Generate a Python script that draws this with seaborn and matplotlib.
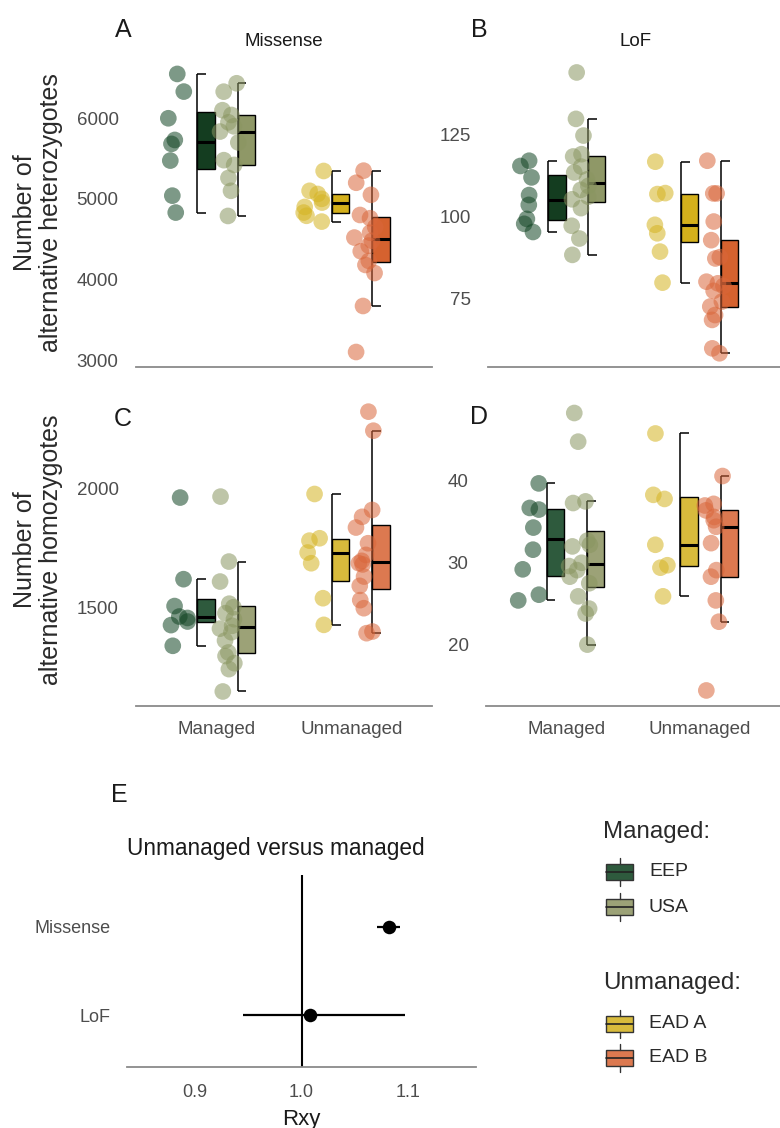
import numpy as np
import pandas as pd
import matplotlib
matplotlib.use("Agg")
import matplotlib.pyplot as plt
import seaborn as sns
from matplotlib.patches import Rectangle

sns.set_theme(style="white")
plt.rcParams["font.family"] = ["Liberation Sans", "DejaVu Sans"]

# ---------------- data ----------------
groups = ["EEP", "USA", "EAD A", "EAD B"]
group_category = ["Managed", "Managed", "Unmanaged", "Unmanaged"]
categories = ["Managed", "Unmanaged"]

# A: heterozygotes, missense
het_mis_eep = [6550, 6331, 6000, 5731, 5682, 5475, 5040, 4830]
het_mis_usa = [4788, 5100, 5260, 5421, 5480, 5700, 5835, 5900, 5950, 6041, 6100, 6330, 6434]
het_mis_eada = [5346, 5100, 5061, 5000, 4954, 4900, 4830, 4790, 4718]
het_mis_eadb = [3100, 3671, 4080, 4180, 4230, 4350, 4420, 4480, 4520, 4580, 4650, 4760,
                4800, 5050, 5200, 5350]
# B: heterozygotes, LoF
het_lof_eep = [117.1, 115.5, 112.0, 106.6, 103.6, 99.3, 97.8, 95.3]
het_lof_usa = [144.1, 129.9, 124.8, 119.1, 118.4, 115.3, 113.5, 111.4, 109.4, 108.2, 106.1,
               105.3, 102.6, 97.2, 93.3, 88.3]
het_lof_eada = [116.8, 107.2, 106.9, 97.5, 94.9, 89.3, 79.8]
het_lof_eadb = [117.1, 107.1, 107.1, 98.5, 92.8, 87.6, 87.2, 80.1, 79.6, 78.8, 77.3, 74.0,
                72.5, 69.9, 68.4, 59.7, 58.2]
# C: homozygotes, missense
hom_mis_eep = [1961, 1618, 1505, 1461, 1455, 1440, 1425, 1338]
hom_mis_usa = [1965, 1692, 1608, 1515, 1500, 1475, 1450, 1422, 1410, 1395, 1360, 1310, 1295,
               1265, 1240, 1146]
hom_mis_eada = [1976, 1790, 1780, 1730, 1685, 1538, 1426]
hom_mis_eadb = [2322, 2242, 1909, 1880, 1835, 1769, 1720, 1695, 1685, 1680, 1629, 1590, 1530,
                1496, 1398, 1391]
# D: homozygotes, LoF
hom_lof_eep = [39.7, 36.7, 36.5, 34.3, 31.6, 29.2, 26.1, 25.4]
hom_lof_usa = [48.3, 44.8, 37.5, 37.3, 32.7, 32.2, 32.0, 30.0, 29.6, 29.1, 28.3, 27.5, 25.9,
               24.4, 23.8, 20.0]
hom_lof_eada = [45.8, 38.3, 37.8, 32.2, 29.7, 29.4, 25.9]
hom_lof_eadb = [40.6, 37.2, 37.0, 36.4, 35.6, 35.2, 34.4, 32.4, 29.1, 28.3, 25.4, 22.8, 14.4]

# E: Rxy unmanaged versus managed
rxy_terms = ["Missense", "LoF"]
rxy_est = [1.082, 1.008]
rxy_lo = [1.071, 0.945]
rxy_hi = [1.093, 1.097]

# ---------------- styles ----------------
box_top = {"EEP": "#143d20", "USA": "#8f9867", "EAD A": "#d4b01c", "EAD B": "#d5622f"}
box_bot = {"EEP": "#2e5a3d", "USA": "#9ca277", "EAD A": "#d8bb3c", "EAD B": "#dc7950"}
pt_cols = {"EEP": "#124524", "USA": "#8a9661", "EAD A": "#d5b421", "EAD B": "#d9663a"}
box_off = {"EEP": -0.08, "USA": 0.22, "EAD A": -0.08, "EAD B": 0.22}
pt_off = {"EEP": -0.28, "USA": 0.10, "EAD A": -0.28, "EAD B": 0.10}
BOXW = 0.13
TICK_C = "#4d4d4d"
TXT_C = "#1a1a1a"

W, H = 780, 1128
fig = plt.figure(figsize=(W / 100, H / 100), dpi=100)
fig.patch.set_facecolor("white")


def px_axes(x0, x1, y0, y1):
    return fig.add_axes([x0 / W, 1 - y1 / H, (x1 - x0) / W, (y1 - y0) / H])


def make_df(arrs):
    rows = []
    for g, cat, vals in zip(groups, group_category, arrs):
        ci = categories.index(cat)
        for v in vals:
            rows.append({"group": g, "value": v,
                         "ppos": ci + pt_off[g], "bpos": ci + box_off[g]})
    return pd.DataFrame(rows)


def draw_panel(ax, arrs, box_cols, ylim, yticks, show_x, seed):
    df = make_df(arrs)
    sns.boxplot(data=df, x="bpos", y="value", hue="group", hue_order=groups,
                palette=box_cols, native_scale=True, dodge=False, width=BOXW / 0.3,
                showfliers=False, whis=1.5, linewidth=1.0, linecolor="black",
                saturation=1, legend=False, ax=ax,
                whiskerprops={"visible": False}, capprops={"visible": False},
                medianprops={"linewidth": 2.2, "color": "black"},
                boxprops={"zorder": 2})
    # whisker brackets on the left edge of each box
    for g in groups:
        v = df.loc[df.group == g, "value"].to_numpy()
        q1, q3 = np.percentile(v, [25, 75])
        iqr = q3 - q1
        lo = v[v >= q1 - 1.5 * iqr].min()
        hi = v[v <= q3 + 1.5 * iqr].max()
        xb = df.loc[df.group == g, "bpos"].iloc[0] - BOXW / 2
        ax.vlines(xb, lo, hi, color="black", lw=1.1, zorder=1.5)
        ax.hlines([lo, hi], xb, xb + BOXW / 2, color="black", lw=1.1, zorder=1.5)
    np.random.seed(seed)
    sns.stripplot(data=df, x="ppos", y="value", hue="group", hue_order=groups,
                  palette=pt_cols, native_scale=True, dodge=False, jitter=0.21,
                  size=12, alpha=0.55, linewidth=0, legend=False, ax=ax, zorder=3)
    ax.set_xlim(-0.6, 1.6)
    ax.set_ylim(*ylim)
    ax.set_yticks(yticks)
    ax.set_yticklabels([str(t) for t in yticks])
    if show_x:
        ax.set_xticks([0, 1])
        ax.set_xticklabels(categories)
    else:
        ax.set_xticks([])
    ax.set_xlabel("")
    ax.set_ylabel("")
    for s in ["left", "top", "right"]:
        ax.spines[s].set_visible(False)
    ax.spines["bottom"].set_color("#8a8a8a")
    ax.spines["bottom"].set_linewidth(1.3)
    ax.tick_params(axis="y", length=0, pad=12.5, labelsize=13.5, labelcolor=TICK_C)
    ax.tick_params(axis="x", length=0, pad=11, labelsize=13.5, labelcolor=TICK_C)
    ax.patch.set_visible(False)


axA = px_axes(136, 432, 45, 367)
axB = px_axes(488, 780, 45, 367)
axC = px_axes(136, 432, 395, 706)
axD = px_axes(486, 780, 395, 706)

draw_panel(axA, [het_mis_eep, het_mis_usa, het_mis_eada, het_mis_eadb], box_top,
           (2914, 6909), [3000, 4000, 5000, 6000], False, 1)
draw_panel(axB, [het_lof_eep, het_lof_usa, het_lof_eada, het_lof_eadb], box_top,
           (54.0, 152.5), [75, 100, 125], False, 2)
draw_panel(axC, [hom_mis_eep, hom_mis_usa, hom_mis_eada, hom_mis_eadb], box_bot,
           (1085, 2392), [1500, 2000], True, 3)
draw_panel(axD, [hom_lof_eep, hom_lof_usa, hom_lof_eada, hom_lof_eadb], box_bot,
           (12.5, 50.5), [20, 30, 40], True, 4)


def ftext(x, y, s, **kw):
    return fig.text(x / W, 1 - y / H, s, **kw)


# strip titles
ftext(284, 41, "Missense", ha="center", va="center", fontsize=13.5, color=TXT_C)
ftext(636, 41, "LoF", ha="center", va="center", fontsize=13.5, color=TXT_C)
# panel letters
for lab, x, y in [("A", 123, 30), ("B", 479, 30), ("C", 123, 419), ("D", 479, 417), ("E", 119, 795)]:
    ftext(x, y, lab, ha="center", va="center", fontsize=18, color=TXT_C)
# y labels
ftext(38, 213, "Number of\nalternative heterozygotes", ha="center", va="center",
      rotation=90, fontsize=18, color="#2a2a2a", multialignment="center", linespacing=1.15)
ftext(38, 550, "Number of\nalternative homozygotes", ha="center", va="center",
      rotation=90, fontsize=18, color="#2a2a2a", multialignment="center", linespacing=1.15)

# ---------------- panel E ----------------
axE = px_axes(127, 476, 875, 1067)
axE.axvline(1.0, color="black", lw=1.5, zorder=1)
axE.hlines(rxy_terms, rxy_lo, rxy_hi, color="black", lw=1.6, zorder=2)
sns.scatterplot(x=rxy_est, y=rxy_terms, color="black", s=95, linewidth=0, ax=axE, zorder=3)
axE.set_xlim(0.836, 1.164)
axE.set_ylim(1.59, -0.59)
axE.set_xticks([0.9, 1.0, 1.1])
axE.set_xticklabels(["0.9", "1.0", "1.1"])
for s in ["left", "top", "right"]:
    axE.spines[s].set_visible(False)
axE.spines["bottom"].set_color("#8a8a8a")
axE.spines["bottom"].set_linewidth(1.3)
axE.tick_params(axis="y", length=0, pad=12, labelsize=13, labelcolor=TICK_C)
axE.tick_params(axis="x", length=0, pad=12, labelsize=13, labelcolor=TICK_C)
axE.set_xlabel("")
axE.set_ylabel("")
axE.patch.set_visible(False)
ftext(127, 848, "Unmanaged versus managed", ha="left", va="center", fontsize=16.3, color=TXT_C)
ftext(301, 1125, "Rxy", ha="center", va="baseline", fontsize=16, color=TXT_C)

# ---------------- legend ----------------
axL = fig.add_axes([0, 0, 1, 1])
axL.set_xlim(0, W)
axL.set_ylim(H, 0)
axL.axis("off")
axL.patch.set_visible(False)


def key(yc, col):
    axL.add_patch(Rectangle((606, yc - 8), 27, 16, facecolor=col, edgecolor="#333333", lw=1.0))
    axL.plot([606, 633], [yc, yc], color="#222222", lw=1.2)
    axL.plot([619.5, 619.5], [yc - 14, yc - 8], color="#333333", lw=1.0)
    axL.plot([619.5, 619.5], [yc + 8, yc + 14], color="#333333", lw=1.0)


ftext(603, 832, "Managed:", ha="left", va="center", fontsize=17.4, color="#2a2a2a")
ftext(603, 983, "Unmanaged:", ha="left", va="center", fontsize=17.4, color="#2a2a2a")
for g, yc in zip(groups, [872, 907, 1024, 1058]):
    key(yc, box_bot[g])
    ftext(649, yc, g, ha="left", va="center", fontsize=14, color="#2a2a2a")

fig.savefig("out.png", dpi=100, facecolor="white")
